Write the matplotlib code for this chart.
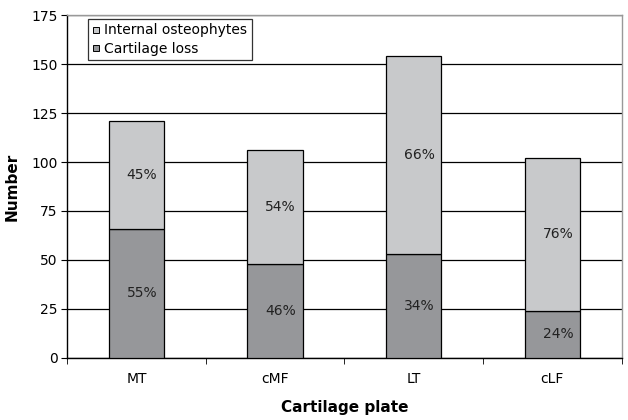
import numpy as np
import matplotlib.pyplot as plt
from matplotlib.lines import Line2D

categories = ["MT", "cMF", "LT", "cLF"]
cartilage_loss = [66, 48, 53, 24]
osteophytes = [55, 58, 101, 78]
loss_labels = ["55%", "46%", "34%", "24%"]
osteo_labels = ["45%", "54%", "66%", "76%"]

light = "#c8c9cb"
dark = "#96979a"

fig = plt.figure(figsize=(6.28, 4.2), dpi=100)
ax = fig.add_axes([0.107, 0.148, 0.883, 0.816])

x = np.arange(len(categories))
ax.bar(x, cartilage_loss, width=0.4, color=dark, edgecolor="black", linewidth=0.9, zorder=3)
ax.bar(x, osteophytes, width=0.4, bottom=cartilage_loss, color=light,
       edgecolor="black", linewidth=0.9, zorder=3)

# percent labels sit a little right of bar centre, as in the original
for i in range(len(categories)):
    ax.text(x[i] + 0.04, cartilage_loss[i] / 2, loss_labels[i], ha="center", va="center",
            fontsize=10, color="#222222", zorder=4)
    ax.text(x[i] + 0.04, cartilage_loss[i] + osteophytes[i] / 2, osteo_labels[i], ha="center",
            va="center", fontsize=10, color="#222222", zorder=4)

ax.set_xlim(-0.5, len(categories) - 0.5)
ax.set_ylim(0, 175)
ax.set_yticks(np.arange(0, 176, 25))
ax.yaxis.grid(True, color="black", linewidth=0.9, zorder=0)
ax.set_axisbelow(True)

ax.set_xticks(x)
ax.set_xticklabels(categories, fontsize=10)
ax.set_xticks(np.arange(-0.5, len(categories), 1.0), minor=True)
ax.tick_params(axis="x", which="major", length=0, pad=10)
ax.tick_params(axis="x", which="minor", length=4, direction="out")
ax.tick_params(axis="y", length=4, direction="out", labelsize=10, pad=3)

for s in ["left", "bottom"]:
    ax.spines[s].set_color("black")
    ax.spines[s].set_linewidth(1.0)
for s in ["top", "right"]:
    ax.spines[s].set_color("#999999")
    ax.spines[s].set_linewidth(1.0)

ax.set_ylabel("Number", fontsize=11, fontweight="bold", labelpad=8)
ax.set_xlabel("Cartilage plate", fontsize=11, fontweight="bold", labelpad=10)

handles = [
    Line2D([], [], marker="s", linestyle="none", markersize=4.5,
           markerfacecolor=light, markeredgecolor="black", markeredgewidth=0.7),
    Line2D([], [], marker="s", linestyle="none", markersize=4.5,
           markerfacecolor=dark, markeredgecolor="black", markeredgewidth=0.7),
]
leg = ax.legend(handles, ["Internal osteophytes", "Cartilage loss"], loc="upper left",
                bbox_to_anchor=(0.037, 0.988), fontsize=10, frameon=True, fancybox=False,
                handlelength=0.6, handletextpad=0.3, borderpad=0.3, labelspacing=0.3,
                borderaxespad=0)
leg.get_frame().set_edgecolor("black")
leg.get_frame().set_linewidth(0.9)
leg.set_zorder(5)

fig.savefig("out.png", dpi=100)
